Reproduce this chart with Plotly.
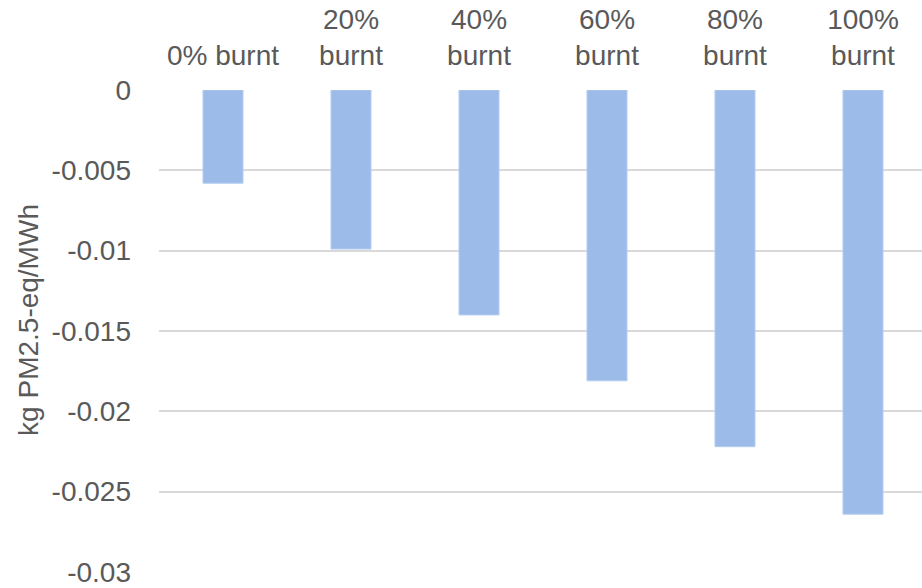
import plotly.graph_objects as go

categories = ["0% burnt", "20%<br>burnt", "40%<br>burnt", "60%<br>burnt", "80%<br>burnt", "100%<br>burnt"]
values = [-0.0058, -0.0099, -0.0140, -0.0181, -0.0222, -0.0264]
y_ticks = [0, -0.005, -0.01, -0.015, -0.02, -0.025, -0.03]
y_tick_text = ["0", "-0.005", "-0.01", "-0.015", "-0.02", "-0.025", "-0.03"]
y_title = "kg PM2.5-eq/MWh"

font_family = "Liberation Sans, Arial, sans-serif"
text_color = "#595959"

fig = go.Figure(
    go.Bar(
        x=list(range(len(categories))),
        y=values,
        width=0.3125,
        marker=dict(color="#9DBBE8", line=dict(color="#B4CDF0", width=1)),
    )
)

fig.update_layout(
    width=922,
    height=588,
    margin=dict(l=159, r=0, t=90, b=16),
    paper_bgcolor="white",
    plot_bgcolor="white",
    showlegend=False,
    font=dict(family=font_family, size=28, color=text_color),
    xaxis=dict(
        side="top",
        tickmode="array",
        tickvals=list(range(len(categories))),
        ticktext=categories,
        range=[-0.5, 5.461],
        showgrid=False,
        zeroline=False,
        showline=False,
        ticks="",
        ticklabelstandoff=18,
        tickfont=dict(size=28, color=text_color),
    ),
    yaxis=dict(
        range=[-0.03, 0],
        tickmode="array",
        tickvals=y_ticks,
        ticktext=y_tick_text,
        showgrid=True,
        gridcolor="#D9D9D9",
        gridwidth=2,
        zeroline=False,
        showline=False,
        ticks="",
        ticklabelstandoff=27,
        tickfont=dict(size=28, color=text_color),
    ),
    annotations=[
        dict(
            text=y_title,
            xref="paper",
            yref="paper",
            x=-0.1704,
            y=0.523,
            xanchor="center",
            yanchor="middle",
            textangle=-90,
            showarrow=False,
            font=dict(size=28, color=text_color),
        )
    ],
)

fig.write_html("out.html")
